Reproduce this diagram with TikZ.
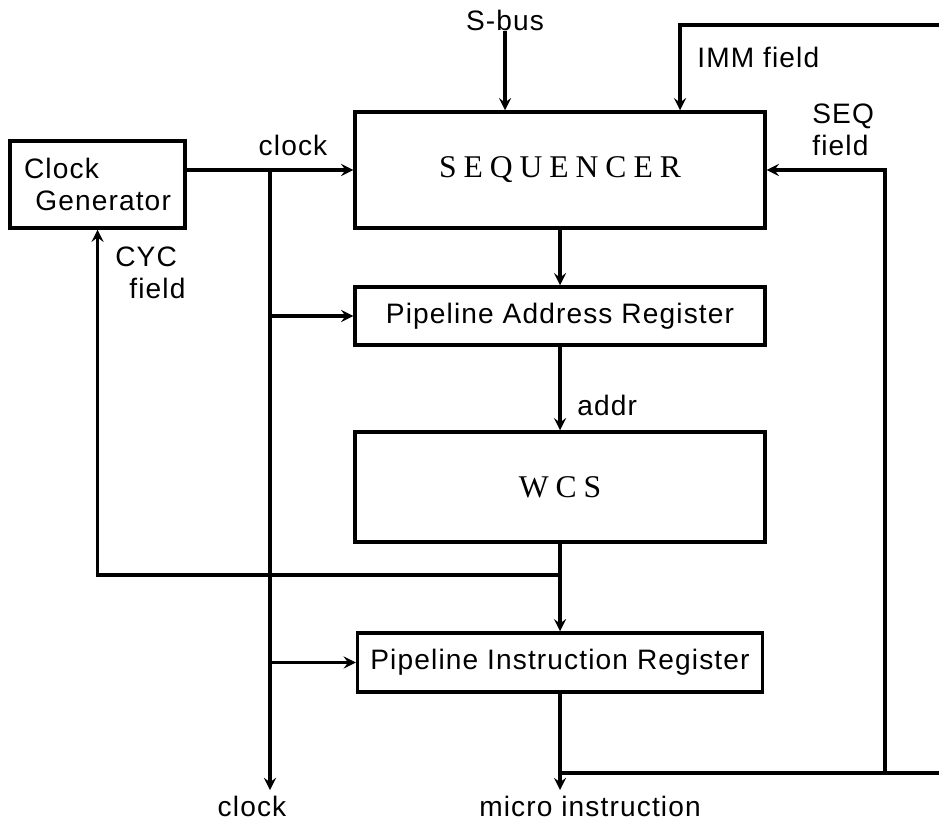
\documentclass[tikz,border=0pt]{standalone}
\usepackage{fontspec}
\setmainfont[LetterSpace=4]{Liberation Sans}
\newfontfamily\spacedserif[LetterSpace=22]{Liberation Serif}
\usetikzlibrary{arrows,positioning}

\begin{document}
\begin{tikzpicture}[
    x=0.02cm, y=-0.02cm,
    every node/.style={font=\fontsize{16}{18}\selectfont},
    block/.style={rectangle, draw, line width=2pt, minimum width=8.2cm, align=center},
    arrow/.style={->, line width=2pt, >=stealth},
    wire/.style={line width=2pt},
    tag/.style={align=left, inner sep=0pt}
]
\useasboundingbox (0,0) rectangle (939,821);

% Blocks
\node[block, minimum width=3.5cm, minimum height=1.74cm, align=left] (clkgen) at (97.5,184.5) {Clock\\\hspace{0.4em}Generator};
\node[block, minimum height=2.32cm, font=\spacedserif\fontsize{18}{20}\selectfont] (seq) at (560,170) {SEQUENCER};
\node[block, minimum height=1.16cm] (par) at (560,316) {Pipeline Address Register};
\node[block, minimum height=2.2cm, font=\spacedserif\fontsize{18}{20}\selectfont] (wcs) at (560,487) {WCS};
\node[block, minimum width=8.1cm, minimum height=1.18cm] (pir) at (560,662.5) {Pipeline Instruction Register};

% Junctions and free ends
\coordinate (clkj) at (270,170);
\coordinate (clkout) at (270,790);
\coordinate (immin) at (939,25);
\coordinate (immtop) at (680,25);
\coordinate (cycj) at (560,575);
\coordinate (miout) at (560,790);
\coordinate (seqj) at (560,773);
\coordinate (sequp) at (885,773);
\coordinate (seqout) at (939,773);

% Labels
\node[tag] (sbus) at (505,20) {S-bus};
\node[tag, anchor=west] (immlbl) at (697,57) {IMM field};
\node[tag, anchor=west] (seqlbl) at (812,130) {SEQ\\field};
\node[tag] (clklbl) at (293,145) {clock};
\node[tag, anchor=west] (addrlbl) at (577,405) {addr};
\node[tag, anchor=west] (cyclbl) at (115,273) {CYC\\\hspace{0.5em}field};
\node[tag] (clkbot) at (252,806) {clock};
\node[tag] (milbl) at (590,806) {micro instruction};

% Clock distribution
\draw[arrow] (clkgen.east |- seq.west) -- (seq.west);
\draw[arrow] (clkj) -- (clkout);
\draw[arrow] (clkj |- par.west) -- (par.west);
\draw[arrow] (clkj |- pir.west) -- (pir.west);

% Sequencer inputs
\draw[arrow] (sbus.south) -- (sbus.south |- seq.north);
\draw[arrow] (immin) -- (immtop) -- (immtop |- seq.north);

% Main path
\draw[arrow] (seq) -- (par);
\draw[arrow] (par) -- (wcs);
\draw[arrow] (wcs) -- (pir);
\draw[arrow] (pir) -- (miout);

% Feedback fields
\draw[arrow] (cycj) -| (clkgen.south);
\draw[wire] (seqj) -- (seqout);
\draw[arrow] (sequp) |- (seq.east);

\end{tikzpicture}
\end{document}
